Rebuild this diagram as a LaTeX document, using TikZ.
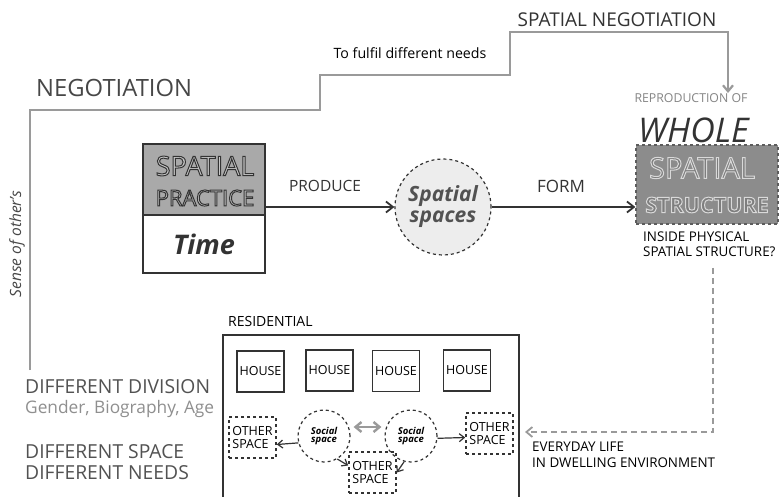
\documentclass[tikz,border=0pt]{standalone}
\usepackage{fontspec}
\setmainfont{Open Sans}
\usetikzlibrary{arrows.meta,calc}
\definecolor{negline}{HTML}{9A9A9A}
\definecolor{ink}{HTML}{333333}
\definecolor{boxgray}{HTML}{8C8C8C}
\definecolor{topgray}{HTML}{A9A9A9}
\definecolor{softgray}{HTML}{EDEDED}
\definecolor{letterlight}{HTML}{C8C8C8}
\definecolor{letterfill}{HTML}{7E7E7E}
\newcommand{\fsz}[1]{\fontsize{#1}{#1}\selectfont}
\newcommand{\outlinedark}[1]{\textcolor{letterlight}{\special{pdf:literal direct 0.2 G 1.0 w 2 Tr}#1\special{pdf:literal direct 0 Tr}}}
\newcommand{\outlinelight}[1]{\textcolor{letterfill}{\special{pdf:literal direct 0.85 G 1.0 w 2 Tr}#1\special{pdf:literal direct 0 Tr}}}
\tikzset{
  lbl/.style={inner sep=0pt, text=ink},
  mainarrow/.style={draw=ink, line width=1.8pt, -{Straight Barb[length=7pt,width=11pt]}},
  housebox/.style={draw=ink, line width=1.6pt, minimum width=47pt, minimum height=41pt, inner sep=0pt, font=\fsz{12.5}},
  otherbox/.style={draw=ink, line width=1.6pt, dashed, minimum width=47pt, minimum height=41pt, inner sep=0pt, align=left, font=\fsz{12.5}},
  socialc/.style={circle, draw=ink, line width=1.2pt, dashed, minimum size=52pt, inner sep=0pt, align=center, font=\bfseries\itshape\fsz{9.5}, text=black},
  smallarrow/.style={draw=ink, line width=1.2pt, -{Straight Barb[length=5pt,width=8pt]}},
}
\begin{document}
\begin{tikzpicture}[x=1pt,y=-1pt]
\useasboundingbox[fill=white] (0,0) rectangle (782,497);

% negotiation staircase
\coordinate (negstart) at (30,370);
\coordinate (negend) at (728,93);
\draw[negline, line width=2.2pt, -{Straight Barb[length=6pt,width=10pt]}]
  (negstart) -- (30,110) -- (320,110) -- (320,75) -- (510,75) -- (510,32) -- (728,32) -- (negend);
\node[lbl, anchor=west, font=\fsz{23.8}, text=ink!90] (neg) at (36,88) {NEGOTIATION};
\node[lbl, font=\fsz{14.2}, text=black] (fulfil) at (410,53) {To fulfil different needs};
\node[lbl, font=\fsz{19}] (spneg) at (617,20) {SPATIAL NEGOTIATION};
\node[lbl, rotate=90, font=\itshape\fsz{15.5}, text=ink!90] (sense) at (17,244) {Sense of other's};

% spatial practice box
\node[draw=ink, line width=1.8pt, fill=topgray, minimum width=122pt, minimum height=71pt, inner sep=0pt] (sptop) at (204,179.5) {};
\node[lbl, font=\fsz{27}] (sptxt1) at (205,166) {\outlinedark{SPATIAL}};
\node[lbl, font=\fsz{22}] (sptxt2) at (205,198) {\outlinedark{PRACTICE}};
\node[draw=ink, line width=1.8pt, fill=white, minimum width=122pt, minimum height=58pt, inner sep=0pt, font=\bfseries\itshape\fsz{27}, text=ink] (spbot) at (204,244) {Time};

% spatial spaces circle
\node[circle, draw=ink, line width=1.2pt, dashed, fill=softgray, minimum size=96pt, inner sep=0pt, align=center, font=\bfseries\itshape\fsz{21}, text=ink!85] (spaces) at (443,207) {Spatial\\spaces};

% spatial structure box
\node[draw=ink!80, line width=1.2pt, dashed, fill=boxgray, minimum width=142pt, minimum height=79pt, inner sep=0pt] (ss) at (707,184.5) {};
\node[lbl, font=\fsz{29}] (sstxt1) at (702,168) {\outlinelight{SPATIAL}};
\node[lbl, font=\bfseries\fsz{21.5}] (sstxt2) at (707,205) {\outlinelight{STRUCTURE}};
\node[lbl, font=\fsz{12.3}, text=ink!60] (repro) at (691,98) {REPRODUCTION OF};
\node[lbl, anchor=west, font=\itshape\fsz{34}, text=ink] (whole) at (638,130) {WHOLE};

% main arrows
\draw[mainarrow] (spaces.west -| sptop.east) -- (spaces.west);
\draw[mainarrow] (spaces.east) -- (ss.west |- spaces.east);
\node[lbl, font=\fsz{15.5}] (produce) at (325,186) {PRODUCE};
\node[lbl, font=\fsz{17}] (form) at (561,186) {FORM};

\node[lbl, anchor=north west, align=left, font=\fsz{13.4}, text=black] (inside) at (643,232) {INSIDE PHYSICAL\\[1pt]SPATIAL STRUCTURE?};

% left texts
\node[lbl, anchor=west, font=\fsz{19.3}, text=ink!85] (div) at (25,387) {DIFFERENT DIVISION};
\node[lbl, anchor=west, font=\fsz{17.3}, text=ink!55] (gender) at (25,409) {Gender, Biography, Age};
\node[lbl, anchor=west, font=\fsz{19.3}, text=ink!85] (dspace) at (25,452) {DIFFERENT SPACE};
\node[lbl, anchor=west, font=\fsz{19.3}, text=ink!85] (dneeds) at (25,473) {DIFFERENT NEEDS};

% residential area
\node[lbl, anchor=west, font=\fsz{14}, text=black] (resid) at (228,321) {RESIDENTIAL};
\coordinate (rbl) at (223,497);
\coordinate (rtl) at (223,335);
\coordinate (rtr) at (519,335);
\coordinate (rbr) at (519,497);
\draw[draw=ink, line width=1.8pt] (rbl) -- (rtl) -- (rtr) -- (rbr);
\node[housebox] (h1) at (260.5,371.5) {HOUSE};
\node[housebox] (h2) at (329.5,370.5) {HOUSE};
\node[housebox] (h3) at (396,371) {HOUSE};
\node[housebox] (h4) at (467,370.5) {HOUSE};
\node[socialc] (s1) at (324,436) {Social\\[-1pt]space};
\node[socialc] (s2) at (411,436) {Social\\[-1pt]space};
\node[otherbox] (o1) at (252.5,437.5) {OTHER\\SPACE};
\node[otherbox] (o2) at (372.5,472.5) {OTHER\\SPACE};
\node[otherbox] (o3) at (489.5,433.5) {OTHER\\SPACE};
\draw[draw=negline, line width=2.4pt, {Straight Barb[length=6pt,width=10pt]}-{Straight Barb[length=6pt,width=10pt]}]
  ($(s1.east)+(3,-9)$) -- ($(s2.west)+(-3,-9)$);
\draw[smallarrow] (s1.195) -- ($(o1.east)+(0,7)$);
\draw[smallarrow] (s1.300) -- ($(o2.west)+(0,-7)$);
\draw[smallarrow] (s2.255) -- (o2.east);
\draw[smallarrow] (s2.355) -- ($(o3.west)+(0,4)$);

% everyday life link
\coordinate (dtop) at (713,268);
\coordinate (dtip) at (525,432);
\draw[draw=negline, line width=1.8pt, dash pattern=on 6pt off 4pt, -{Straight Barb[length=6pt,width=10pt]}] (dtop) |- (dtip);
\node[lbl, anchor=north west, align=left, font=\fsz{13.4}, text=black] (everyday) at (532,442) {EVERYDAY LIFE\\[2pt]IN DWELLING ENVIRONMENT};
\end{tikzpicture}
\end{document}
